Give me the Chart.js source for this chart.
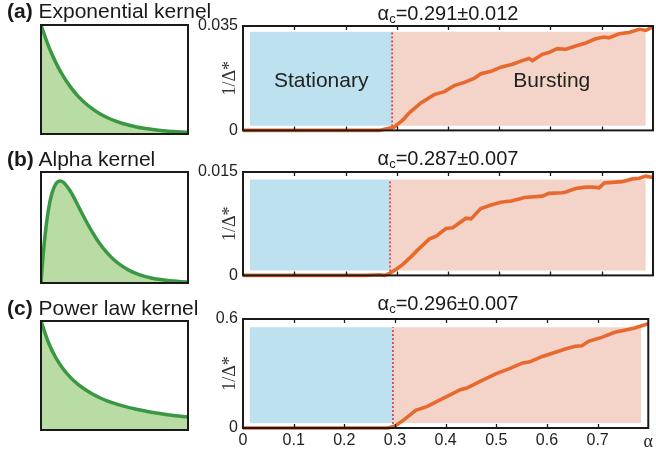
<!DOCTYPE html>
<html>
<head>
<meta charset="utf-8">
<script src="https://cdn.jsdelivr.net/npm/chart.js@4"></script>
<style>
  body { margin: 0; width: 656px; height: 452px; background: #fff; position: relative; overflow: hidden; font-family: "Liberation Sans", Arial, sans-serif; }
  canvas { position: absolute; }
  .head { position: absolute; font-size: 21px; line-height: 20px; color: #1a1a1a; white-space: nowrap; z-index: 2; }
  .head b { font-weight: bold; }
  .atitle { position: absolute; width: 300px; text-align: center; font-size: 20px; line-height: 20px; color: #1a1a1a; white-space: nowrap; z-index: 2; }
  .atitle sub { font-size: 13px; vertical-align: -3px; }
</style>
</head>
<body>
<div class="head" style="left:7px;top:1px"><b>(a)</b> Exponential kernel</div>
<div class="head" style="left:7px;top:149px"><b>(b)</b> Alpha kernel</div>
<div class="head" style="left:7px;top:298px"><b>(c)</b> Power law kernel</div>
<div class="atitle" style="left:298px;top:3px">α<sub>c</sub>=0.291±0.012</div>
<div class="atitle" style="left:298px;top:148px">α<sub>c</sub>=0.287±0.007</div>
<div class="atitle" style="left:298px;top:293px">α<sub>c</sub>=0.296±0.007</div>

<canvas id="kernelA" style="left:0;top:0" width="200" height="145"></canvas>
<canvas id="kernelB" style="left:0;top:145px" width="200" height="145"></canvas>
<canvas id="kernelC" style="left:0;top:290px" width="200" height="162"></canvas>
<canvas id="deltaA" style="left:180px;top:0" width="476" height="145"></canvas>
<canvas id="deltaB" style="left:180px;top:145px" width="476" height="145"></canvas>
<canvas id="deltaC" style="left:180px;top:290px" width="476" height="162"></canvas>

<script>
// kernel shapes (left column), time axis 0..1
const kernelT = [0, 0.05, 0.1, 0.15, 0.2, 0.25, 0.3, 0.35, 0.4, 0.45, 0.5, 0.55, 0.6, 0.65, 0.7, 0.75, 0.8, 0.85, 0.9, 0.95, 1];
const expKernel = [1, 0.811, 0.657, 0.533, 0.432, 0.35, 0.284, 0.23, 0.186, 0.151, 0.122, 0.099, 0.08, 0.065, 0.053, 0.043, 0.035, 0.028, 0.023, 0.0185, 0.015];
const powKernel = [1, 0.805, 0.665, 0.562, 0.483, 0.421, 0.371, 0.33, 0.296, 0.268, 0.244, 0.223, 0.205, 0.19, 0.176, 0.163, 0.153, 0.143, 0.134, 0.126, 0.119];
const alphaKernelT = [0, 0.01, 0.025, 0.05, 0.075, 0.1, 0.13, 0.15, 0.2, 0.25, 0.3, 0.35, 0.4, 0.45, 0.5, 0.55, 0.6, 0.65, 0.7, 0.75, 0.8, 0.85, 0.9, 0.95, 1];
const alphaKernel = [0, 0.178, 0.396, 0.655, 0.81, 0.891, 0.92, 0.91, 0.826, 0.703, 0.574, 0.456, 0.354, 0.272, 0.205, 0.154, 0.114, 0.084, 0.062, 0.045, 0.033, 0.024, 0.017, 0.012, 0.009];

// 1/Delta* versus alpha (right column)
const alphaA = [0, 0.1, 0.2, 0.266, 0.295, 0.312, 0.325, 0.347, 0.373, 0.393, 0.412, 0.432, 0.451, 0.464, 0.484, 0.503, 0.526, 0.545, 0.558, 0.565, 0.584, 0.597, 0.613, 0.63, 0.649, 0.669, 0.688, 0.705, 0.714, 0.734, 0.753, 0.773, 0.786, 0.8];
const invDeltaA = [0, 0, 0, 0, 0.0011, 0.0035, 0.006, 0.0092, 0.012, 0.013, 0.015, 0.0161, 0.0174, 0.019, 0.0198, 0.0212, 0.0222, 0.0234, 0.0241, 0.0234, 0.0255, 0.0261, 0.0274, 0.0272, 0.0283, 0.0293, 0.0307, 0.0313, 0.031, 0.0324, 0.0328, 0.0339, 0.0335, 0.0348];
const alphaB = [0, 0.1, 0.2, 0.24, 0.266, 0.276, 0.286, 0.299, 0.312, 0.325, 0.341, 0.364, 0.377, 0.396, 0.409, 0.422, 0.435, 0.445, 0.464, 0.484, 0.503, 0.523, 0.539, 0.549, 0.584, 0.597, 0.623, 0.63, 0.649, 0.669, 0.682, 0.695, 0.705, 0.721, 0.74, 0.76, 0.773, 0.786, 0.8];
const invDeltaB = [0, 0, 0, 0, 0.0001, 0, 0.0003, 0.0009, 0.0016, 0.0025, 0.0037, 0.0053, 0.0057, 0.0068, 0.0069, 0.0076, 0.0083, 0.0082, 0.0097, 0.0102, 0.0106, 0.0108, 0.0111, 0.0113, 0.0115, 0.0119, 0.012, 0.0121, 0.0126, 0.0128, 0.0128, 0.0127, 0.0134, 0.0135, 0.0136, 0.014, 0.0141, 0.0144, 0.0142];
const alphaC = [0, 0.1, 0.2, 0.286, 0.299, 0.318, 0.341, 0.364, 0.383, 0.403, 0.429, 0.442, 0.468, 0.5, 0.526, 0.552, 0.565, 0.591, 0.617, 0.636, 0.656, 0.669, 0.682, 0.708, 0.734, 0.753, 0.773, 0.8];
const invDeltaC = [0, 0, 0, 0, 0.009, 0.046, 0.097, 0.119, 0.147, 0.174, 0.211, 0.22, 0.257, 0.299, 0.327, 0.358, 0.363, 0.394, 0.417, 0.435, 0.45, 0.453, 0.477, 0.499, 0.527, 0.538, 0.55, 0.574];

const alphaCrit = [0.291, 0.287, 0.296];
const yMaxes = [0.035, 0.015, 0.6];
const yTickLabels = [["0", "0.035"], ["0", "0.015"], ["0", "0.6"]];
// shaded bands: [bottom, top] in data units, x extent of the whole band
const bandY = [[0.0016, 0.0331], [0.0007, 0.0139], [0.028, 0.554]];
const bandX = [0.013, 0.786];
const xTickVals = [0, 0.1, 0.2, 0.3, 0.4, 0.5, 0.6, 0.7, 0.8];
const xTickLabels = ["0", "0.1", "0.2", "0.3", "0.4", "0.5", "0.6", "0.7", "α"];
const innerTicks = [0.1, 0.2, 0.3, 0.4, 0.5, 0.6, 0.7];
const regionNames = ["Stationary", "Bursting"];
const regionLabelX = [0.1525, 0.6025];
const regionLabelY = 0.0164;

const GREEN = "#3a9743";
const GREEN_FILL = "#b9dca4";
const ORANGE = "#e8692e";
const BLUE = "#bde1ef";
const PINK = "#f4d4c8";
const RED = "#e8252f";
const SANS = '"Liberation Sans", Arial, sans-serif';
const SERIF = '"Liberation Serif", "Times New Roman", serif';

const pts = (xs, ys) => xs.map((x, i) => ({ x: x, y: ys[i] }));

// black frame around plot area
const framePlugin = {
  id: "frame",
  afterDraw(chart) {
    const { ctx, chartArea: a } = chart;
    ctx.save();
    ctx.strokeStyle = "#1a1a1a";
    ctx.lineWidth = 2;
    ctx.strokeRect(a.left, a.top, a.right - a.left, a.bottom - a.top);
    ctx.restore();
  }
};

// small tick marks pointing inward at top and bottom
const innerTickPlugin = {
  id: "innerTicks",
  afterDraw(chart) {
    const { ctx, chartArea: a, scales } = chart;
    ctx.save();
    ctx.strokeStyle = "#1a1a1a";
    ctx.lineWidth = 1.3;
    innerTicks.forEach(v => {
      const px = Math.round(scales.x.getPixelForValue(v)) + 0.5;
      ctx.beginPath();
      ctx.moveTo(px, a.bottom);
      ctx.lineTo(px, a.bottom - 4);
      ctx.moveTo(px, a.top);
      ctx.lineTo(px, a.top + 4);
      ctx.stroke();
    });
    ctx.restore();
  }
};

const regionTextPlugin = {
  id: "regionText",
  afterDatasetsDraw(chart, args, opts) {
    if (!opts.show) return;
    const { ctx, scales } = chart;
    ctx.save();
    ctx.fillStyle = "#222";
    ctx.font = "21px " + SANS;
    ctx.textAlign = "center";
    ctx.textBaseline = "middle";
    regionNames.forEach((name, i) => {
      ctx.fillText(name, scales.x.getPixelForValue(regionLabelX[i]), scales.y.getPixelForValue(regionLabelY));
    });
    ctx.restore();
  }
};

function kernelChart(id, xs, ys, pad) {
  new Chart(document.getElementById(id), {
    type: "line",
    data: {
      datasets: [{
        data: pts(xs, ys),
        borderColor: GREEN,
        backgroundColor: GREEN_FILL,
        borderWidth: 3.5,
        fill: "origin",
        pointRadius: 0,
        cubicInterpolationMode: "monotone"
      }]
    },
    options: {
      responsive: false,
      animation: false,
      layout: { padding: pad },
      plugins: { legend: { display: false }, tooltip: { enabled: false } },
      scales: {
        x: { type: "linear", min: 0, max: 1, display: false },
        y: { min: 0, max: 1, display: false }
      }
    },
    plugins: [framePlugin]
  });
}

kernelChart("kernelA", kernelT, expKernel, { left: 41, right: 12, top: 25, bottom: 11 });
kernelChart("kernelB", alphaKernelT, alphaKernel, { left: 41, right: 12, top: 27, bottom: 7 });
kernelChart("kernelC", kernelT, powKernel, { left: 41, right: 12, top: 31, bottom: 22 });

function deltaChart(id, k, xs, ys, pad, showX) {
  const yMax = yMaxes[k];
  const [b0, b1] = bandY[k];
  const ac = alphaCrit[k];
  new Chart(document.getElementById(id), {
    type: "line",
    data: {
      datasets: [
        {
          data: pts(xs, ys),
          borderColor: ORANGE,
          borderWidth: 3.6,
          pointRadius: 0,
          fill: false,
          clip: 4
        },
        {
          data: [{ x: ac, y: 0 }, { x: ac, y: b1 }],
          borderColor: RED,
          borderWidth: 1.5,
          borderDash: [2, 2],
          pointRadius: 0,
          fill: false
        },
        {
          data: [{ x: bandX[0], y: b1 }, { x: ac, y: b1 }],
          borderWidth: 0,
          borderColor: "rgba(0,0,0,0)",
          backgroundColor: BLUE,
          pointRadius: 0,
          fill: { value: b0 }
        },
        {
          data: [{ x: ac, y: b1 }, { x: bandX[1], y: b1 }],
          borderWidth: 0,
          borderColor: "rgba(0,0,0,0)",
          backgroundColor: PINK,
          pointRadius: 0,
          fill: { value: b0 }
        }
      ]
    },
    options: {
      responsive: false,
      animation: false,
      layout: { padding: pad },
      plugins: {
        legend: { display: false },
        tooltip: { enabled: false },
        regionText: { show: k === 0 }
      },
      scales: {
        x: {
          type: "linear",
          min: 0,
          max: 0.8,
          grid: { display: false, drawTicks: false },
          border: { display: false },
          afterBuildTicks: s => { s.ticks = xTickVals.map(v => ({ value: v })); },
          afterFit: s => { s.height = showX ? 22 : 0; },
          ticks: {
            display: showX,
            autoSkip: false,
            maxRotation: 0,
            padding: 3,
            color: "#222",
            font: c => (c.index === xTickVals.length - 1
              ? { family: SERIF, size: 18 }
              : { family: SANS, size: 16 }),
            callback: (v, i) => xTickLabels[i]
          }
        },
        y: {
          min: 0,
          max: yMax,
          grid: { display: false, drawTicks: false },
          border: { display: false },
          afterBuildTicks: s => { s.ticks = [{ value: 0 }, { value: yMax }]; },
          afterFit: s => { s.width = 63; },
          ticks: {
            padding: 5,
            color: "#222",
            font: { family: SANS, size: 16 },
            callback: (v, i) => yTickLabels[k][i]
          },
          title: {
            display: true,
            text: "1/Δ*",
            color: "#333",
            font: { family: SERIF, size: 18 },
            padding: { top: 39, bottom: 0 }
          }
        }
      }
    },
    plugins: [regionTextPlugin, framePlugin, innerTickPlugin]
  });
}

deltaChart("deltaA", 0, alphaA, invDeltaA, { left: 0, right: 3, top: 26, bottom: 12 }, false);
deltaChart("deltaB", 1, alphaB, invDeltaB, { left: 0, right: 3, top: 27, bottom: 9 }, false);
deltaChart("deltaC", 2, alphaC, invDeltaC, { left: 0, right: 3, top: 29, bottom: 2 }, true);
</script>
</body>
</html>
